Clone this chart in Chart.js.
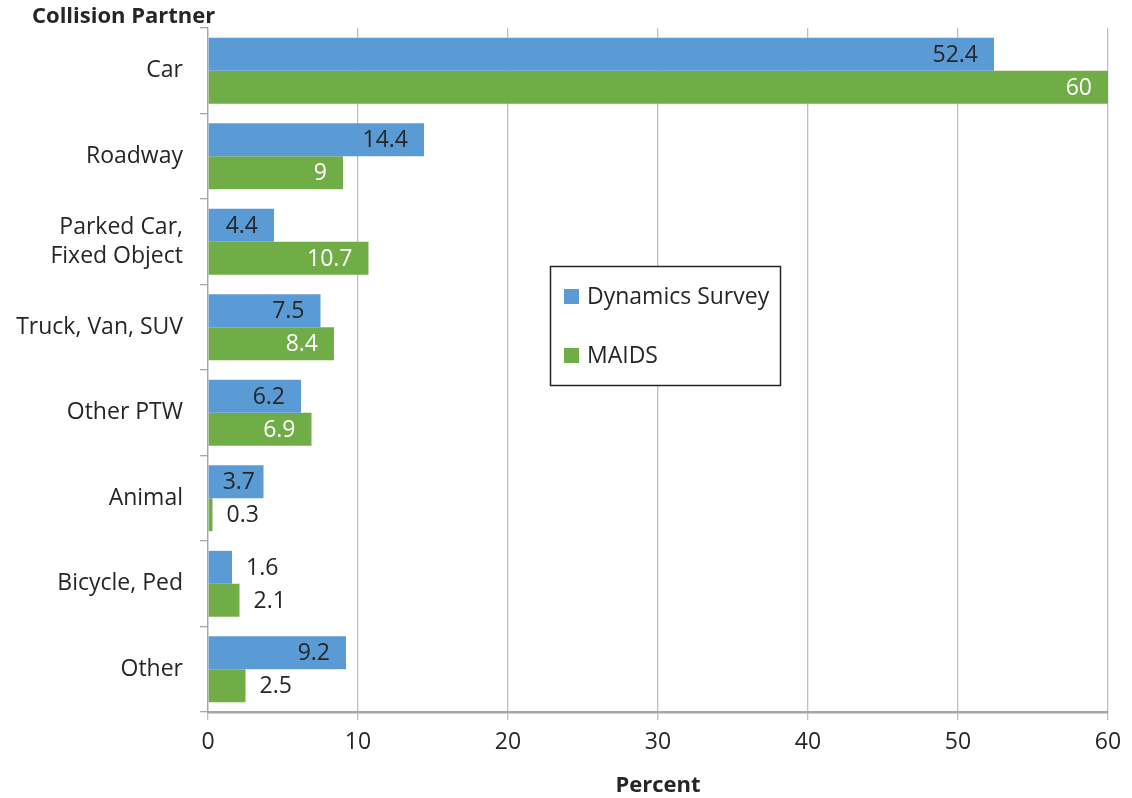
<!DOCTYPE html>
<html>
<head>
<meta charset="utf-8">
<script src="https://cdn.jsdelivr.net/npm/chart.js@4.4.0/dist/chart.umd.min.js"></script>
<style>
    html, body { margin: 0; padding: 0; background: #fff; }
    canvas { display: block; }
</style>
</head>
<body>
<canvas id="grafico" width="1132" height="798"></canvas>
<script>
const categorias = ['Car', 'Roadway', ['Parked Car,', 'Fixed Object'], 'Truck, Van, SUV', 'Other PTW', 'Animal', 'Bicycle, Ped', 'Other'];
const dynamicsSurvey = [52.4, 14.4, 4.4, 7.5, 6.2, 3.7, 1.6, 9.2];
const maids = [60, 9, 10.7, 8.4, 6.9, 0.3, 2.1, 2.5];
const ticksPercent = [0, 10, 20, 30, 40, 50, 60];
const nomesSeries = ['Dynamics Survey', 'MAIDS'];

const FONTE = '"Open Sans", Lato, sans-serif';
const TAM = 23;
const TAM_NEGRITO = 22;
const TEXTO = '#262626';

// rótulos de valor nas pontas das barras (dentro se couber, senão fora)
const rotulosBarras = {
    id: 'rotulosBarras',
    afterDatasetsDraw(chart) {
        const ctx = chart.ctx;
        ctx.save();
        ctx.font = `${TAM}px ${FONTE}`;
        ctx.textBaseline = 'middle';
        chart.data.datasets.forEach((ds, i) => {
            chart.getDatasetMeta(i).data.forEach((bar, j) => {
                const txt = String(ds.data[j]);
                const w = ctx.measureText(txt).width;
                const larg = bar.x - bar.base;
                if (larg >= w + 18) {
                    ctx.textAlign = 'right';
                    ctx.fillStyle = ds.corRotulo;
                    ctx.fillText(txt, Math.max(bar.x - 16, bar.base + w + 14), bar.y + 1);
                } else {
                    ctx.textAlign = 'left';
                    ctx.fillStyle = TEXTO;
                    ctx.fillText(txt, bar.x + 14, bar.y + 1);
                }
            });
        });
        ctx.restore();
    }
};

// legenda em caixa no meio do gráfico + título do eixo vertical
const extras = {
    id: 'extras',
    afterDraw(chart) {
        const ctx = chart.ctx;
        ctx.save();
        ctx.fillStyle = '#fff';
        ctx.fillRect(550, 266, 231, 120);
        ctx.strokeStyle = TEXTO;
        ctx.lineWidth = 1.5;
        ctx.strokeRect(550.5, 266.5, 230, 119);
        ctx.font = `${TAM}px ${FONTE}`;
        ctx.textBaseline = 'middle';
        ctx.textAlign = 'left';
        chart.data.datasets.forEach((ds, i) => {
            const y = 297 + i * 59;
            ctx.fillStyle = ds.backgroundColor;
            ctx.fillRect(564, y - 8, 15, 15);
            ctx.fillStyle = TEXTO;
            ctx.fillText(ds.label, 587, y);
        });
        ctx.font = `bold ${TAM_NEGRITO}px ${FONTE}`;
        ctx.fillText('Collision Partner', 32, 17);
        ctx.restore();
    }
};

new Chart(document.getElementById('grafico'), {
    type: 'bar',
    data: {
        labels: categorias,
        datasets: [
            { label: nomesSeries[0], data: dynamicsSurvey, backgroundColor: '#5B9BD5', corRotulo: TEXTO },
            { label: nomesSeries[1], data: maids, backgroundColor: '#70AD47', corRotulo: '#ffffff' }
        ]
    },
    options: {
        indexAxis: 'y',
        responsive: false,
        animation: false,
        layout: { padding: { top: 28, right: 24, bottom: 0, left: 0 } },
        datasets: { bar: { categoryPercentage: 0.77, barPercentage: 1.0, borderWidth: 0 } },
        plugins: { legend: { display: false }, tooltip: { enabled: false } },
        scales: {
            x: {
                min: 0, max: 60,
                afterBuildTicks: s => { s.ticks = ticksPercent.map(v => ({ value: v })); },
                afterFit: s => { s.height = 86; },
                grid: { color: '#BFBFBF', lineWidth: 1.3, tickLength: 8 },
                border: { color: '#A6A6A6', width: 2.5 },
                ticks: { font: { family: FONTE, size: TAM }, color: TEXTO, padding: 9, maxRotation: 0 },
                title: { display: true, text: 'Percent', color: TEXTO, font: { family: FONTE, size: TAM_NEGRITO, weight: 'bold', lineHeight: 1 }, padding: { top: 0, bottom: 1 } }
            },
            y: {
                afterFit: s => { s.width = 208; s.paddingTop = 0; s.paddingBottom = 0; },
                grid: { drawOnChartArea: false, color: '#A6A6A6', lineWidth: 1.3, tickLength: 8 },
                border: { color: '#A6A6A6', width: 1.3 },
                ticks: { font: { family: FONTE, size: TAM, lineHeight: 1.26 }, color: TEXTO, padding: 17 }
            }
        }
    },
    plugins: [rotulosBarras, extras]
});
</script>
</body>
</html>
